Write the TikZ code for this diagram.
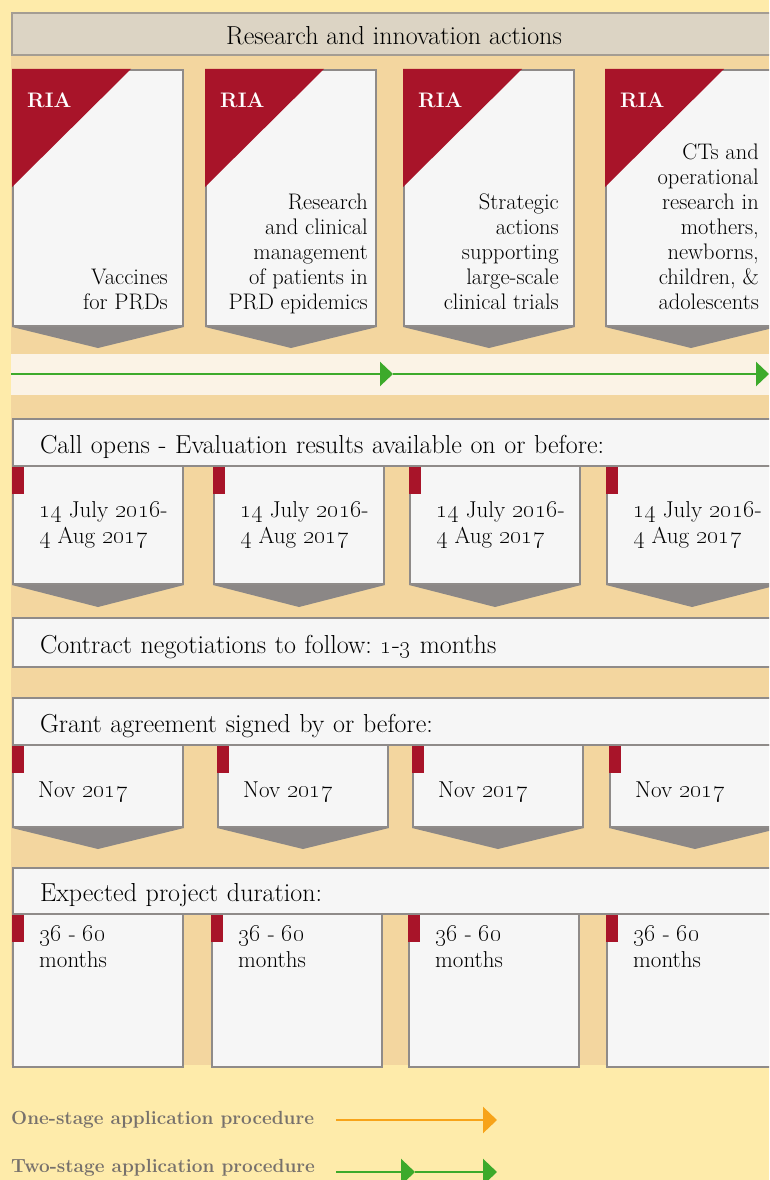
\documentclass[tikz,border=0pt]{standalone}
\usetikzlibrary{arrows.meta, positioning, calc}

\definecolor{outerbg}{HTML}{FEEBAA}
\definecolor{panelbg}{HTML}{F3D69F}
\definecolor{bandbg}{HTML}{FBF3E6}
\definecolor{hdrfill}{HTML}{DCD4C4}
\definecolor{hdrline}{HTML}{A49D93}
\definecolor{cardfill}{HTML}{F6F6F6}
\definecolor{cardline}{HTML}{8F8B89}
\definecolor{chevfill}{HTML}{8B8786}
\definecolor{riared}{HTML}{A81429}
\definecolor{arrowgreen}{HTML}{3DAA2B}
\definecolor{arroworange}{HTML}{F7A319}
\definecolor{legendgray}{HTML}{77716C}

\begin{document}
\frenchspacing
\begin{tikzpicture}[
    x=1pt, y=-1pt,
    hdrbox/.style={draw=hdrline, line width=2pt, fill=hdrfill,
        anchor=north west, minimum width=764pt, minimum height=42pt,
        text height=22pt, text depth=0pt,
        font=\fontsize{26}{30}\selectfont},
    banner/.style={draw=cardline, line width=2pt, fill=cardfill,
        anchor=north west, minimum height=47pt, text width=709pt,
        inner xsep=27pt, inner ysep=0pt, align=left,
        text height=22pt, text depth=1pt,
        font=\fontsize{26}{30}\selectfont},
    card/.style={draw=cardline, line width=2pt, fill=cardfill,
        anchor=north west, minimum width=170pt, inner sep=0pt},
    chev/.style={fill=chevfill},
    riatag/.style={anchor=base west, inner sep=0pt, text=white,
        font=\fontsize{21}{24}\selectfont\bfseries},
    cardtext/.style={inner sep=0pt, text depth=0pt,
        font=\fontsize{22.5}{25}\selectfont},
    datetext/.style={anchor=south west, align=left, inner sep=0pt,
        text depth=0pt, font=\fontsize{23}{26}\selectfont},
    legendtext/.style={anchor=base west, inner sep=0pt, text=legendgray,
        font=\fontsize{19}{22}\selectfont\bfseries},
    twostage/.style={draw=arrowgreen, line width=2.5pt,
        -{Triangle[length=13pt, width=24pt]}},
    onestage/.style={draw=arroworange, line width=2.5pt,
        -{Triangle[length=14pt, width=26pt]}}
  ]
  \useasboundingbox (0,0) rectangle (769,1180);
  \clip (0,0) rectangle (769,1180);
  \fill[outerbg] (0,0) rectangle (769,1180);
  \fill[panelbg] (11,12) rectangle (769,1065);

  \node[hdrbox] (header) at (11,12) {Research and innovation actions};

  % RIA cards
  \foreach \n/\xx/\dx/\txt in {
      1/12/16/{Vaccines\\for PRDs},
      2/205/9/{Research\\and clinical\\management\\of patients in\\PRD epidemics},
      3/403/16/{Strategic\\actions\\supporting\\large-scale\\clinical trials},
      4/605/18/{CTs and\\operational\\research in\\mothers,\\newborns,\\children, \&\\adolescents}} {
    \node[card, minimum height=256pt] (ria\n) at (\xx,69) {};
    \fill[riared] (ria\n.north west) -- ++(119,0) -- ++(-119,118) -- cycle;
    \node[riatag] (riatag\n) at ($(ria\n.north west)+(15,39)$) {RIA};
    \node[cardtext, align=right, anchor=south east] (riatxt\n)
      at ($(ria\n.north east)+(-\dx,241)$) {\txt};
    \fill[chev] (ria\n.south west) -- (ria\n.south east)
      -- ($(ria\n.south)+(0,21)$) -- cycle;
  }

  % two-stage band
  \fill[bandbg] (11,354) rectangle (769,395);
  \coordinate (bandstart) at (11,374);
  \coordinate (bandmid) at (393,374);
  \coordinate (bandend) at (769,374);
  \draw[twostage] (bandstart) -- (bandmid);
  \draw[twostage] (bandmid) -- (bandend);

  % call opens
  \foreach \n/\xx in {1/12, 2/213, 3/409, 4/606} {
    \node[card, minimum height=118pt] (date\n) at (\xx,465) {};
    \fill[riared] (date\n.north west) rectangle ++(12,29);
    \node[datetext] (datetxt\n) at ($(date\n.north west)+(27,79)$)
      {\oldstylenums{14} July \oldstylenums{2016}-\\\oldstylenums{4} Aug \oldstylenums{2017}};
    \fill[chev] (date\n.south west) -- (date\n.south east)
      -- ($(date\n.south)+(0,22)$) -- cycle;
  }
  \node[banner] (callopens) at (12,418)
    {Call opens - Evaluation results available on or before:};

  \node[banner, minimum height=49pt] (contract) at (12,617)
    {Contract negotiations to follow: \oldstylenums{1}-\oldstylenums{3} months};

  % grant agreement
  \foreach \n/\xx in {1/12, 2/217, 3/412, 4/609} {
    \node[card, minimum height=82pt] (grant\n) at (\xx,744) {};
    \fill[riared] (grant\n.north west) rectangle ++(12,29);
    \node[datetext] (granttxt\n) at ($(grant\n.north west)+(26,54)$)
      {Nov \oldstylenums{2017}};
    \fill[chev] (grant\n.south west) -- (grant\n.south east)
      -- ($(grant\n.south)+(0,21)$) -- cycle;
  }
  \node[banner] (grant) at (12,697) {Grant agreement signed by or before:};

  % duration
  \foreach \n/\xx in {1/12, 2/211, 3/408, 4/606} {
    \node[card, minimum height=153pt] (dur\n) at (\xx,913) {};
    \fill[riared] (dur\n.north west) rectangle ++(12,29);
    \node[datetext] (durtxt\n) at ($(dur\n.north west)+(27,55)$)
      {\oldstylenums{36} - \oldstylenums{60}\\months};
  }
  \node[banner, minimum height=46pt] (duration) at (12,867)
    {Expected project duration:};

  % legend
  \node[legendtext] (onestagelbl) at (11,1124) {One-stage application procedure};
  \coordinate (onestart) at (336,1120);
  \coordinate (oneend) at (497,1120);
  \draw[onestage] (onestart) -- (oneend);

  \node[legendtext] (twostagelbl) at (11,1172) {Two-stage application procedure};
  \coordinate (twostart) at (336,1172);
  \coordinate (twomid) at (415,1172);
  \coordinate (twoend) at (497,1172);
  \draw[onestage, draw=arrowgreen] (twostart) -- (twomid);
  \draw[onestage, draw=arrowgreen] (twomid) -- (twoend);
\end{tikzpicture}
\end{document}
